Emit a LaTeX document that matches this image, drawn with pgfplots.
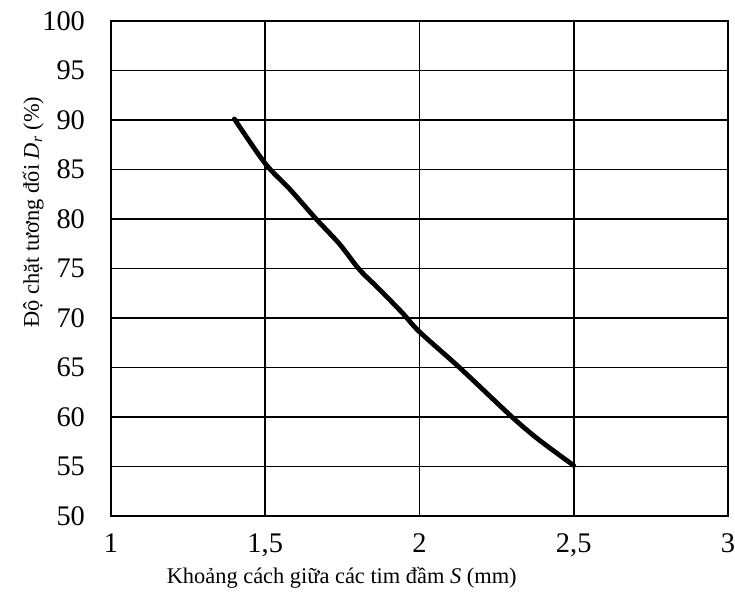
\documentclass[border=0pt]{standalone}
\usepackage{fontspec}
\setmainfont{Liberation Serif}
\usepackage{pgfplots}
\pgfplotsset{compat=1.18}

\begin{document}
\begin{tikzpicture}
% overall frame of the figure (axis box sits at the origin)
\path[use as bounding box] (-55.5pt,-39pt) rectangle (312pt,258pt);
\begin{axis}[
  scale only axis,
  width=308.5pt, height=247.5pt,
  xmin=1, xmax=3, ymin=50, ymax=100,
  xtick={1,1.5,2,2.5,3},
  ytick={50,55,...,100},
  grid=major,
  major grid style={black, line width=0.9pt},
  axis line style={black, line width=1pt},
  major tick length=0pt,
  /pgf/number format/assume math mode=true,
  /pgf/number format/use comma,
  xticklabel={\pgfmathprintnumber{\tick}},
  yticklabel={\pgfmathprintnumber{\tick}},
  tick label style={font=\fontsize{14.2}{16}\selectfont},
  xticklabel style={yshift=-5.5pt},
  yticklabel style={xshift=-9.5pt},
  label style={font=\fontsize{11.2}{13}\selectfont},
  xlabel={Khoảng cách giữa các tim đầm \textit{S} (mm)},
  ylabel={Độ chặt tương đối \textit{D}\textsubscript{\textit{r}} (\%)},
  xlabel style={at={(axis description cs:0.374,-0.125)}, anchor=center},
  ylabel style={at={(axis description cs:-0.126,0.614)}, anchor=center, rotate=0},
]
\addplot[black, line width=2.4pt, smooth, line join=round, line cap=round] coordinates {
  (1.40,90.1) (1.50,85.6) (1.58,83.0) (1.665,80.0) (1.74,77.5)
  (1.805,74.9) (1.87,72.9) (1.945,70.5) (2.00,68.6) (2.133,64.9)
  (2.30,60.0) (2.387,57.7) (2.50,55.1)
};
\end{axis}
\end{tikzpicture}
\end{document}
